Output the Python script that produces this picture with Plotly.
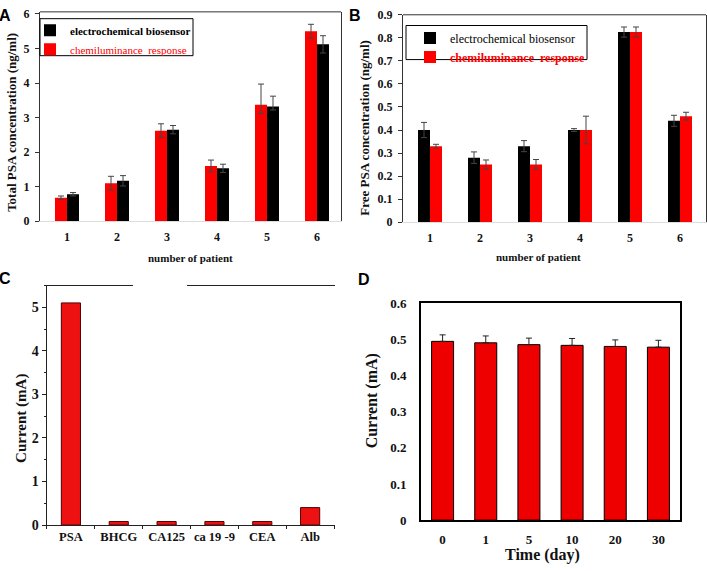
import plotly.graph_objects as go

# ---------------- data ----------------
patients = [1, 2, 3, 4, 5, 6]

A_electro = [0.78, 1.17, 2.65, 1.53, 3.32, 5.12]
A_electro_err_up = [0.05, 0.15, 0.12, 0.12, 0.30, 0.25]
A_electro_err_dn = [0.05, 0.15, 0.12, 0.12, 0.10, 0.25]
A_chemi = [0.68, 1.10, 2.62, 1.60, 3.37, 5.50]
A_chemi_err_up = [0.05, 0.20, 0.20, 0.17, 0.60, 0.20]
A_chemi_err_dn = [0.05, 0.20, 0.20, 0.17, 0.25, 0.20]

B_electro = [0.40, 0.28, 0.33, 0.40, 0.825, 0.44]
B_electro_err = [0.033, 0.025, 0.024, 0.006, 0.022, 0.024]
B_chemi = [0.33, 0.25, 0.25, 0.40, 0.825, 0.46]
B_chemi_err = [0.008, 0.02, 0.022, 0.06, 0.022, 0.017]

C_labels = ["PSA", "BHCG", "CA125", "ca 19 -9", "CEA", "Alb"]
C_current = [5.10, 0.08, 0.08, 0.08, 0.08, 0.40]

D_days = ["0", "1", "5", "10", "20", "30"]
D_current = [0.494, 0.490, 0.485, 0.483, 0.480, 0.478]
D_err = [0.018, 0.019, 0.018, 0.019, 0.018, 0.019]

# ---------------- styling ----------------
W, H = 707, 571
SERIF = "Liberation Serif"
SANS = "Liberation Sans"
RED = "#ff0000"
ERRC = "#444444"


def px_x(p):
    return p / W


def px_y(p):
    return 1 - p / H


fig = go.Figure()

# ---- Panel A ----
fig.add_trace(go.Bar(
    x=patients, y=A_electro, name="<b>electrochemical biosensor</b>",
    marker=dict(color="#000000", line=dict(width=0)),
    width=0.24, offset=0.0,
    error_y=dict(type="data", array=A_electro_err_up, arrayminus=A_electro_err_dn,
                 color=ERRC, thickness=1, width=3),
    xaxis="x", yaxis="y", legend="legend"))
fig.add_trace(go.Bar(
    x=patients, y=A_chemi, name="<span style='color:#ff0000'>chemiluminance  response</span>",
    marker=dict(color=RED, line=dict(width=0)),
    width=0.24, offset=-0.24,
    error_y=dict(type="data", array=A_chemi_err_up, arrayminus=A_chemi_err_dn,
                 color=ERRC, thickness=1, width=3),
    xaxis="x", yaxis="y", legend="legend"))

# ---- Panel B ----
fig.add_trace(go.Bar(
    x=patients, y=B_electro, name="electrochemical biosensor",
    marker=dict(color="#000000", line=dict(width=0)),
    width=0.24, offset=-0.24,
    error_y=dict(type="data", array=B_electro_err, color=ERRC, thickness=1, width=3),
    xaxis="x2", yaxis="y2", legend="legend2"))
fig.add_trace(go.Bar(
    x=patients, y=B_chemi, name="<b><span style='color:#ff0000'>chemiluminance  response</span></b>",
    marker=dict(color=RED, line=dict(width=0)),
    width=0.24, offset=0.0,
    error_y=dict(type="data", array=B_chemi_err, color=ERRC, thickness=1, width=3),
    xaxis="x2", yaxis="y2", legend="legend2"))

# ---- Panel C ----
fig.add_trace(go.Bar(
    x=C_labels, y=C_current, showlegend=False,
    marker=dict(color="#ee1111", line=dict(color="#550000", width=1)),
    width=0.4, xaxis="x3", yaxis="y3"))

# ---- Panel D ----
fig.add_trace(go.Bar(
    x=D_days, y=D_current, showlegend=False,
    marker=dict(color="#ee0000", line=dict(color="#000000", width=1)),
    width=0.51,
    error_y=dict(type="data", array=D_err, arrayminus=[0] * len(D_err), symmetric=False,
                 color="#222222", thickness=1, width=3),
    xaxis="x4", yaxis="y4"))

tickA = dict(family=SERIF, size=12, color="#111111", weight="bold")

fig.update_layout(
    width=W, height=H,
    margin=dict(l=0, r=0, t=0, b=0),
    font=dict(family=SERIF, color="#111111"),
    paper_bgcolor="white", plot_bgcolor="white",
    barmode="group",
    # A
    xaxis=dict(domain=[px_x(40), px_x(341)], range=[0.46, 6.48], tickvals=patients,
               showgrid=False, zeroline=False, showline=True, linecolor="#dddddd",
               linewidth=1, ticks="", tickfont=tickA, ticklabelstandoff=4, anchor="y"),
    yaxis=dict(domain=[px_y(220), px_y(5)], range=[0, 6.06], dtick=1,
               showgrid=False, zeroline=False, showline=True, linecolor="#333333",
               linewidth=1, mirror=True, ticks="outside", ticklen=4, tickcolor="#333333",
               tickfont=tickA, ticklabelstandoff=3, anchor="x"),
    # B
    xaxis2=dict(domain=[px_x(403), px_x(706)], range=[0.46, 6.52], tickvals=patients,
                showgrid=False, zeroline=False, showline=True, linecolor="#dddddd",
                linewidth=1, ticks="", tickfont=tickA, ticklabelstandoff=4, anchor="y2"),
    yaxis2=dict(domain=[px_y(221), px_y(8)], range=[0, 0.9], dtick=0.1, tickformat=".1~f",
                showgrid=False, zeroline=False, showline=True, linecolor="#333333",
                linewidth=1, mirror=True, ticks="outside", ticklen=4, tickcolor="#333333",
                tickfont=tickA, ticklabelstandoff=3, anchor="x2"),
    # C
    xaxis3=dict(domain=[px_x(46.5), px_x(335)], range=[-0.51, 5.52], type="category",
                showgrid=False, zeroline=False, showline=True, linecolor="#222222",
                linewidth=1, ticks="outside", tickson="boundaries", ticklen=3,
                tickcolor="#222222", tickangle=0,
                tickfont=dict(family=SERIF, size=12.5, color="#111111", weight="bold"),
                anchor="y3"),
    yaxis3=dict(domain=[px_y(532), px_y(286)], range=[0, 5.5], dtick=1,
                showgrid=False, zeroline=False, showline=True, linecolor="#222222",
                linewidth=1, ticks="outside", ticklen=4, tickcolor="#222222",
                minor=dict(ticks="outside", ticklen=2, dtick=0.5, tickcolor="#222222"),
                tickfont=dict(family=SERIF, size=14, color="#111111", weight="bold"),
                anchor="x3"),
    # D
    xaxis4=dict(domain=[px_x(421), px_x(680)], range=[-0.5, 5.5], type="category",
                showgrid=False, zeroline=False, showline=True, linecolor="#000000",
                linewidth=2, mirror=True, ticks="", ticklabelstandoff=6,
                tickfont=dict(family=SERIF, size=13, color="#111111", weight="bold"),
                anchor="y4"),
    yaxis4=dict(domain=[px_y(527), px_y(304)], range=[0, 0.6], dtick=0.1, tickformat=".1~f",
                showgrid=False, zeroline=False, showline=True, linecolor="#000000",
                linewidth=2, mirror=True, ticks="", ticklabelstandoff=10,
                tickfont=dict(family=SERIF, size=13, color="#111111", weight="bold"),
                anchor="x4"),
    legend=dict(x=px_x(30), y=px_y(9), xanchor="left", yanchor="top",
                borderwidth=0, bgcolor="rgba(0,0,0,0)",
                font=dict(family=SERIF, size=11, color="#000000"),
                traceorder="normal", tracegroupgap=0, itemclick=False),
    legend2=dict(x=px_x(410), y=px_y(17), xanchor="left", yanchor="top",
                 borderwidth=0, bgcolor="rgba(0,0,0,0)",
                 font=dict(family=SERIF, size=12, color="#000000"),
                 traceorder="normal", tracegroupgap=0, itemclick=False),
)

# frame lines (top lines of A, B, C) and legend boxes
shapes = []
for xr, yr in [("x", "y"), ("x2", "y2")]:
    shapes.append(dict(type="line", xref=f"{xr} domain", yref=f"{yr} domain",
                       x0=0, x1=1, y0=1, y1=1, line=dict(color="#333333", width=1)))
for a, b in [(0, 0.30), (0.487, 1)]:
    shapes.append(dict(type="line", xref="x3 domain", yref="y3 domain",
                       x0=a, x1=b, y0=1, y1=1, line=dict(color="#222222", width=1)))
for x0, x1, y0, y1 in [(40, 193, 12, 50), (406, 587, 19, 54)]:
    shapes.append(dict(type="rect", xref="paper", yref="paper", layer="above",
                       x0=px_x(x0), x1=px_x(x1), y0=px_y(y1), y1=px_y(y0),
                       fillcolor="white", line=dict(color="#000000", width=1)))
fig.update_layout(shapes=shapes)

ann = []
# panel letters
for txt, x, y in [("A", 5, 9), ("B", 355, 9), ("C", 5, 279), ("D", 364, 280)]:
    ann.append(dict(text=txt, x=px_x(x), y=px_y(y), xref="paper", yref="paper",
                    xanchor="center", yanchor="middle", showarrow=False,
                    font=dict(family=SANS, size=16, color="#000000", weight="bold")))
# axis titles
titles = [
    ("Total PSA concentration (ng/ml)", 12, 119, -90, 13),
    ("number of patient", 190, 258, 0, 11),
    ("Free PSA concentration (ng/ml)", 365, 124, -90, 13),
    ("number of patient", 538, 257, 0, 11),
    ("Current (mA)", 22, 423, -90, 15),
    ("Current (mA)", 372, 405, -90, 16),
    ("Time (day)", 542, 563, 0, 16),
]
for txt, x, y, ang, sz in titles:
    ann.append(dict(text=txt, x=px_x(x), y=px_y(y), xref="paper", yref="paper",
                    xanchor="center", yanchor="middle", showarrow=False, textangle=ang,
                    font=dict(family=SERIF, size=sz, color="#111111", weight="bold")))
fig.update_layout(annotations=ann)

fig.write_html(
    "out.html",
    config={"displayModeBar": False},
    post_script="document.body.style.margin='0';document.body.style.padding='0';"
                "document.documentElement.style.overflow='hidden';",
)
